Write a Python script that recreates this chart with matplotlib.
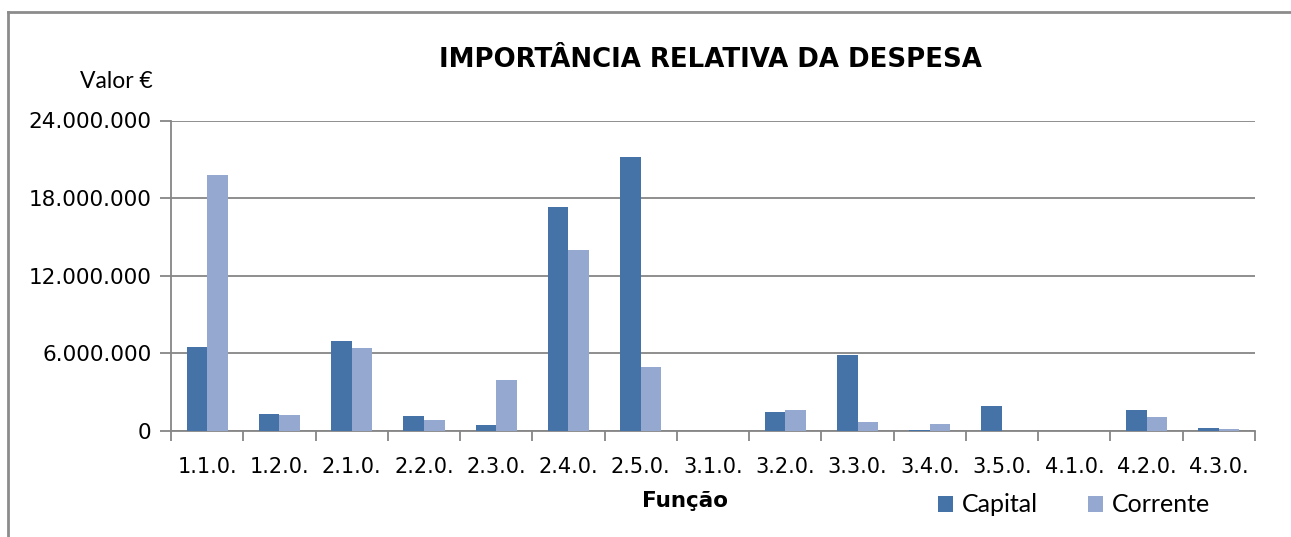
import numpy as np
import matplotlib.pyplot as plt
from matplotlib.lines import Line2D
from matplotlib.ticker import FuncFormatter, FixedLocator

categories = ['1.1.0.', '1.2.0.', '2.1.0.', '2.2.0.', '2.3.0.', '2.4.0.', '2.5.0.', '3.1.0.',
              '3.2.0.', '3.3.0.', '3.4.0.', '3.5.0.', '4.1.0.', '4.2.0.', '4.3.0.']
capital = [6.53e6, 1.29e6, 6.99e6, 1.13e6, 0.44e6, 17.33e6, 21.18e6, 0,
           1.47e6, 5.90e6, 0.08e6, 1.94e6, 0, 1.63e6, 0.23e6]
corrente = [19.8e6, 1.21e6, 6.45e6, 0.82e6, 3.98e6, 14.01e6, 4.97e6, 0,
            1.63e6, 0.70e6, 0.54e6, 0, 0, 1.09e6, 0.16e6]
yticks = [0, 6e6, 12e6, 18e6, 24e6]

c_cap = '#4573a7'
c_cor = '#95a9d0'
grey = '#868686'

W, H = 1291, 537
fig = plt.figure(figsize=(W / 100, H / 100), dpi=100)
ax = fig.add_axes([171 / W, 1 - 431 / H, (1255 - 171) / W, (431 - 120.5) / H])

x = np.arange(len(categories))
w = 0.285
ax.bar(x - w / 2, capital, w, color=c_cap, label='Capital', zorder=3)
ax.bar(x + w / 2, corrente, w, color=c_cor, label='Corrente', zorder=3)

ax.set_xlim(-0.5, len(categories) - 0.5)
ax.set_ylim(0, 24e6)
ax.set_yticks(yticks)
ax.yaxis.set_major_formatter(FuncFormatter(lambda v, p: f'{int(v):,}'.replace(',', '.')))
ax.grid(axis='y', color=grey, lw=1.3, zorder=0)

ax.set_xticks(x)
ax.set_xticklabels(categories)
ax.xaxis.set_minor_locator(FixedLocator(np.arange(-0.5, len(categories), 1)))
ax.tick_params(axis='x', which='major', length=0, pad=19, labelsize=15)
ax.tick_params(axis='x', which='minor', length=7, width=1.3, color=grey, direction='out')
ax.tick_params(axis='y', length=8, width=1.3, color=grey, labelsize=15.5, pad=6)

for s in ['top', 'right']:
    ax.spines[s].set_visible(False)
for s in ['left', 'bottom']:
    ax.spines[s].set_color(grey)
    ax.spines[s].set_linewidth(1.3)

fig.text(710 / W, 1 - 60 / H, 'IMPORTÂNCIA RELATIVA DA DESPESA', ha='center', va='center',
         fontsize=18.7, fontweight='bold', family='DejaVu Sans')
fig.text(116.5 / W, 1 - 82 / H, 'Valor €', ha='center', va='center', fontsize=16.5, family='Lato')
fig.text(685 / W, 1 - 501 / H, 'Função', ha='center', va='center', fontsize=15.5,
         fontweight='bold', family='DejaVu Sans')

fig.legend(loc='center', bbox_to_anchor=(1074 / W, 1 - 505 / H), ncol=2, frameon=False,
           prop={'family': 'Lato', 'size': 18}, handlelength=0.6, handleheight=0.6,
           handletextpad=0.36, columnspacing=2.0, borderpad=0, borderaxespad=0)

# outer chart frame (only top and left edges are visible)
fig.add_artist(Line2D([8 / W, 1.0], [1 - 12 / H, 1 - 12 / H], transform=fig.transFigure,
                      color='#8c8c8c', lw=2))
fig.add_artist(Line2D([8 / W, 8 / W], [0, 1 - 12 / H], transform=fig.transFigure,
                      color='#8c8c8c', lw=2))

fig.savefig('out.png', dpi=100)
